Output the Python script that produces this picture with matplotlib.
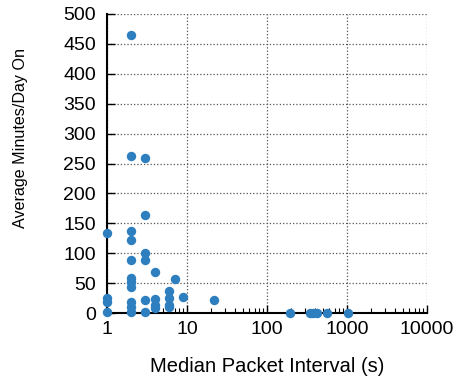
import matplotlib
matplotlib.use("Agg")
import matplotlib.pyplot as plt
from matplotlib.ticker import FixedLocator, LogLocator, NullFormatter

plt.rcParams['font.family'] = ['Liberation Sans', 'DejaVu Sans']

# median packet interval (s) and average minutes/day on
interval = [1, 1, 1, 1,
            2, 2, 2, 2, 2, 2, 2, 2, 2, 2, 2,
            3, 3, 3, 3, 3, 3,
            4, 4, 4, 4,
            6, 6, 6, 6, 7, 9, 22,
            195, 345, 380, 425, 560, 1040]
minutes = [134, 25, 18, 2,
           465, 262, 137, 122, 89, 58, 52, 44, 19, 10, 2,
           260, 164, 100, 89, 22, 2,
           68, 23, 14, 8,
           36, 25, 14, 10, 57, 27, 22,
           0, 0, 0, 0, 0, 0]

x_ticks = [1, 10, 100, 1000, 10000]
y_ticks = [0, 50, 100, 150, 200, 250, 300, 350, 400, 450, 500]

W, H = 459, 381
fig = plt.figure(figsize=(W / 100, H / 100), dpi=100)
ax = fig.add_axes([107 / W, 1 - 313 / H, 320 / W, 299 / H])

ax.scatter(interval, minutes, s=46, color='#2e7fbf', zorder=3, clip_on=False,
           linewidths=0)

ax.set_xscale('log')
ax.set_xlim(1, 10000)
ax.set_ylim(0, 500)
ax.xaxis.set_major_locator(FixedLocator(x_ticks))
ax.set_xticklabels([str(t) for t in x_ticks])
ax.xaxis.set_minor_locator(LogLocator(base=10, subs=range(2, 10)))
ax.xaxis.set_minor_formatter(NullFormatter())
ax.set_yticks(y_ticks)

ax.spines['top'].set_visible(False)
ax.spines['right'].set_visible(False)
ax.spines['left'].set_linewidth(1.5)
ax.spines['bottom'].set_linewidth(1.5)

ax.tick_params(axis='both', which='major', direction='in', length=6, width=1, labelsize=14)
ax.tick_params(axis='y', which='major', pad=8)
ax.tick_params(axis='x', which='major', pad=6)
ax.tick_params(axis='x', which='minor', direction='in', length=3.5, width=0.8)
ax.grid(True, which='major', linestyle=':', color='#555555', linewidth=0.9)

fig.text(266.7 / W, 1 - 366.7 / H, 'Median Packet Interval (s)', fontsize=14.5,
         ha='center', va='center')
fig.text(20.7 / W, 1 - 138.5 / H, 'Average Minutes/Day On', fontsize=11.6,
         rotation=90, ha='center', va='center')

fig.savefig('out.png', dpi=100)
